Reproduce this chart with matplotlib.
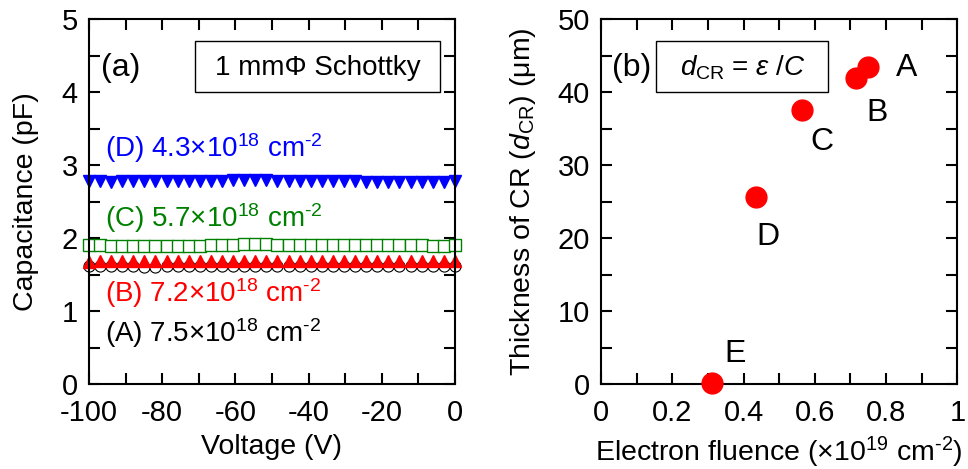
import numpy as np
import matplotlib
matplotlib.use("Agg")
import matplotlib.pyplot as plt
from matplotlib.patches import Rectangle
from matplotlib.ticker import MultipleLocator

plt.rcParams["font.family"] = ["Liberation Sans", "DejaVu Sans"]
plt.rcParams["mathtext.fontset"] = "custom"
plt.rcParams["mathtext.rm"] = "Liberation Sans"
plt.rcParams["mathtext.it"] = "Liberation Sans:italic"
plt.rcParams["mathtext.bf"] = "Liberation Sans:bold"
plt.rcParams["axes.unicode_minus"] = False

# ---- panel (a): C-V sweeps -------------------------------------------------
voltage = np.linspace(-100, 0, 34)
cap_d = [2.78, 2.78, 2.77, 2.78, 2.78, 2.78, 2.78, 2.78, 2.78, 2.79, 2.79,
         2.79, 2.79, 2.80, 2.80, 2.80, 2.80, 2.79, 2.79, 2.78, 2.78, 2.78,
         2.78, 2.78, 2.78, 2.77, 2.77, 2.77, 2.77, 2.77, 2.77, 2.77, 2.77, 2.78]
cap_c = [1.90, 1.90, 1.89, 1.89, 1.89, 1.89, 1.89, 1.89, 1.89, 1.89, 1.89,
         1.90, 1.90, 1.91, 1.92, 1.92, 1.92, 1.90, 1.90, 1.90, 1.90, 1.90,
         1.90, 1.90, 1.90, 1.90, 1.90, 1.90, 1.90, 1.90, 1.90, 1.89, 1.89, 1.90]
cap_b = [1.68, 1.69, 1.69, 1.69, 1.69, 1.69, 1.69, 1.69, 1.69, 1.69, 1.69,
         1.69, 1.69, 1.69, 1.69, 1.69, 1.69, 1.69, 1.69, 1.69, 1.69, 1.69,
         1.69, 1.69, 1.69, 1.69, 1.69, 1.69, 1.69, 1.69, 1.69, 1.69, 1.69, 1.69]
cap_a = [1.62, 1.62, 1.62, 1.62, 1.62, 1.61, 1.61, 1.62, 1.62, 1.62, 1.62,
         1.62, 1.62, 1.62, 1.62, 1.62, 1.62, 1.62, 1.62, 1.62, 1.62, 1.62,
         1.62, 1.62, 1.62, 1.62, 1.62, 1.62, 1.62, 1.62, 1.62, 1.62, 1.62, 1.62]

series_labels = [r"(D) 4.3×10$^{18}$ cm$^{\text{-2}}$",
                 r"(C) 5.7×10$^{18}$ cm$^{\text{-2}}$",
                 r"(B) 7.2×10$^{18}$ cm$^{\text{-2}}$",
                 r"(A) 7.5×10$^{18}$ cm$^{\text{-2}}$"]
label_y = [3.23, 2.27, 1.25, 0.70]

# ---- panel (b): thickness of CR vs fluence ---------------------------------
point_names = ["A", "B", "C", "D", "E"]
fluence = [0.75, 0.715, 0.565, 0.435, 0.31]
thickness = [43.5, 42.0, 37.5, 25.7, 0.2]
name_x = [0.857, 0.775, 0.62, 0.467, 0.376]
name_y = [43.3, 37.1, 33.2, 20.1, 4.1]

TICK_FS = 21
LABEL_FS = 20.5
TEXT_FS = 20


def style_axes(ax):
    for s in ax.spines.values():
        s.set_linewidth(1.5)
    ax.tick_params(which="both", direction="in", top=True, right=True,
                   length=8, width=1.5, labelsize=TICK_FS)
    ax.tick_params(axis="x", pad=11)
    ax.tick_params(axis="y", pad=8)


fig = plt.figure(figsize=(9.68, 4.69), dpi=100)
ax1 = fig.add_axes([0.0919, 0.181, 0.378, 0.778])
ax2 = fig.add_axes([0.621, 0.181, 0.368, 0.778])

# panel (a)
ax1.plot(voltage, cap_a, "o", ms=8, mfc="white", mec="black", mew=0.8, clip_on=False)
ax1.plot(voltage, cap_b, "^", ms=8.5, color="red", mec="red", clip_on=False)
ax1.plot(voltage, cap_c, "s", ms=8, mfc="white", mec="green", mew=1.0, clip_on=False)
ax1.plot(voltage, cap_d, "v", ms=8.5, color="blue", mec="blue", clip_on=False)

for txt, y, c in zip(series_labels, label_y, ["blue", "green", "red", "black"]):
    ax1.text(-95.5, y, txt, color=c, fontsize=TEXT_FS, va="center", ha="left")

ax1.text(-96.8, 4.33, "(a)", fontsize=23, va="center")
ax1.add_patch(Rectangle((-71.0, 4.0), 66.9, 0.70, fc="white", ec="black", lw=1.0))
ax1.text(-37.5, 4.33, "1 mmΦ Schottky", fontsize=TEXT_FS, va="center", ha="center")

ax1.set_xlim(-100, 0)
ax1.set_ylim(0, 5)
ax1.xaxis.set_major_locator(MultipleLocator(20))
ax1.xaxis.set_minor_locator(MultipleLocator(10))
ax1.yaxis.set_major_locator(MultipleLocator(1))
ax1.yaxis.set_minor_locator(MultipleLocator(0.5))
ax1.set_xlabel("Voltage (V)", fontsize=LABEL_FS, labelpad=5)
ax1.set_ylabel("Capacitance (pF)", fontsize=LABEL_FS, labelpad=16)
style_axes(ax1)

# panel (b)
ax2.plot(fluence, thickness, "o", ms=15, color="red", mec="red", clip_on=False, zorder=3)
for n, x, y in zip(point_names, name_x, name_y):
    ax2.text(x, y, n, fontsize=23, ha="center", va="center")

ax2.text(0.03, 43.3, "(b)", fontsize=23, va="center")
ax2.add_patch(Rectangle((0.155, 40.0), 0.483, 7.0, fc="white", ec="black", lw=1.0))
ax2.text(0.397, 43.3, r"$d_{\mathrm{CR}}$ = $ε$ /$C$", fontsize=TEXT_FS,
         va="center", ha="center")

ax2.set_xlim(0, 1)
ax2.set_ylim(0, 50)
ax2.xaxis.set_minor_locator(MultipleLocator(0.1))
ax2.yaxis.set_major_locator(MultipleLocator(10))
ax2.yaxis.set_minor_locator(MultipleLocator(5))
ax2.set_xticks([0, 0.2, 0.4, 0.6, 0.8, 1.0])
ax2.set_xticklabels(["0", "0.2", "0.4", "0.6", "0.8", "1"])
ax2.set_xlabel(r"Electron fluence (×10$^{19}$ cm$^{\text{-2}}$)", fontsize=LABEL_FS,
               labelpad=5)
ax2.set_ylabel(r"Thickness of CR ($d_{\mathrm{CR}}$) (μm)", fontsize=LABEL_FS,
               labelpad=14)
style_axes(ax2)

fig.savefig("out.png", dpi=100)
